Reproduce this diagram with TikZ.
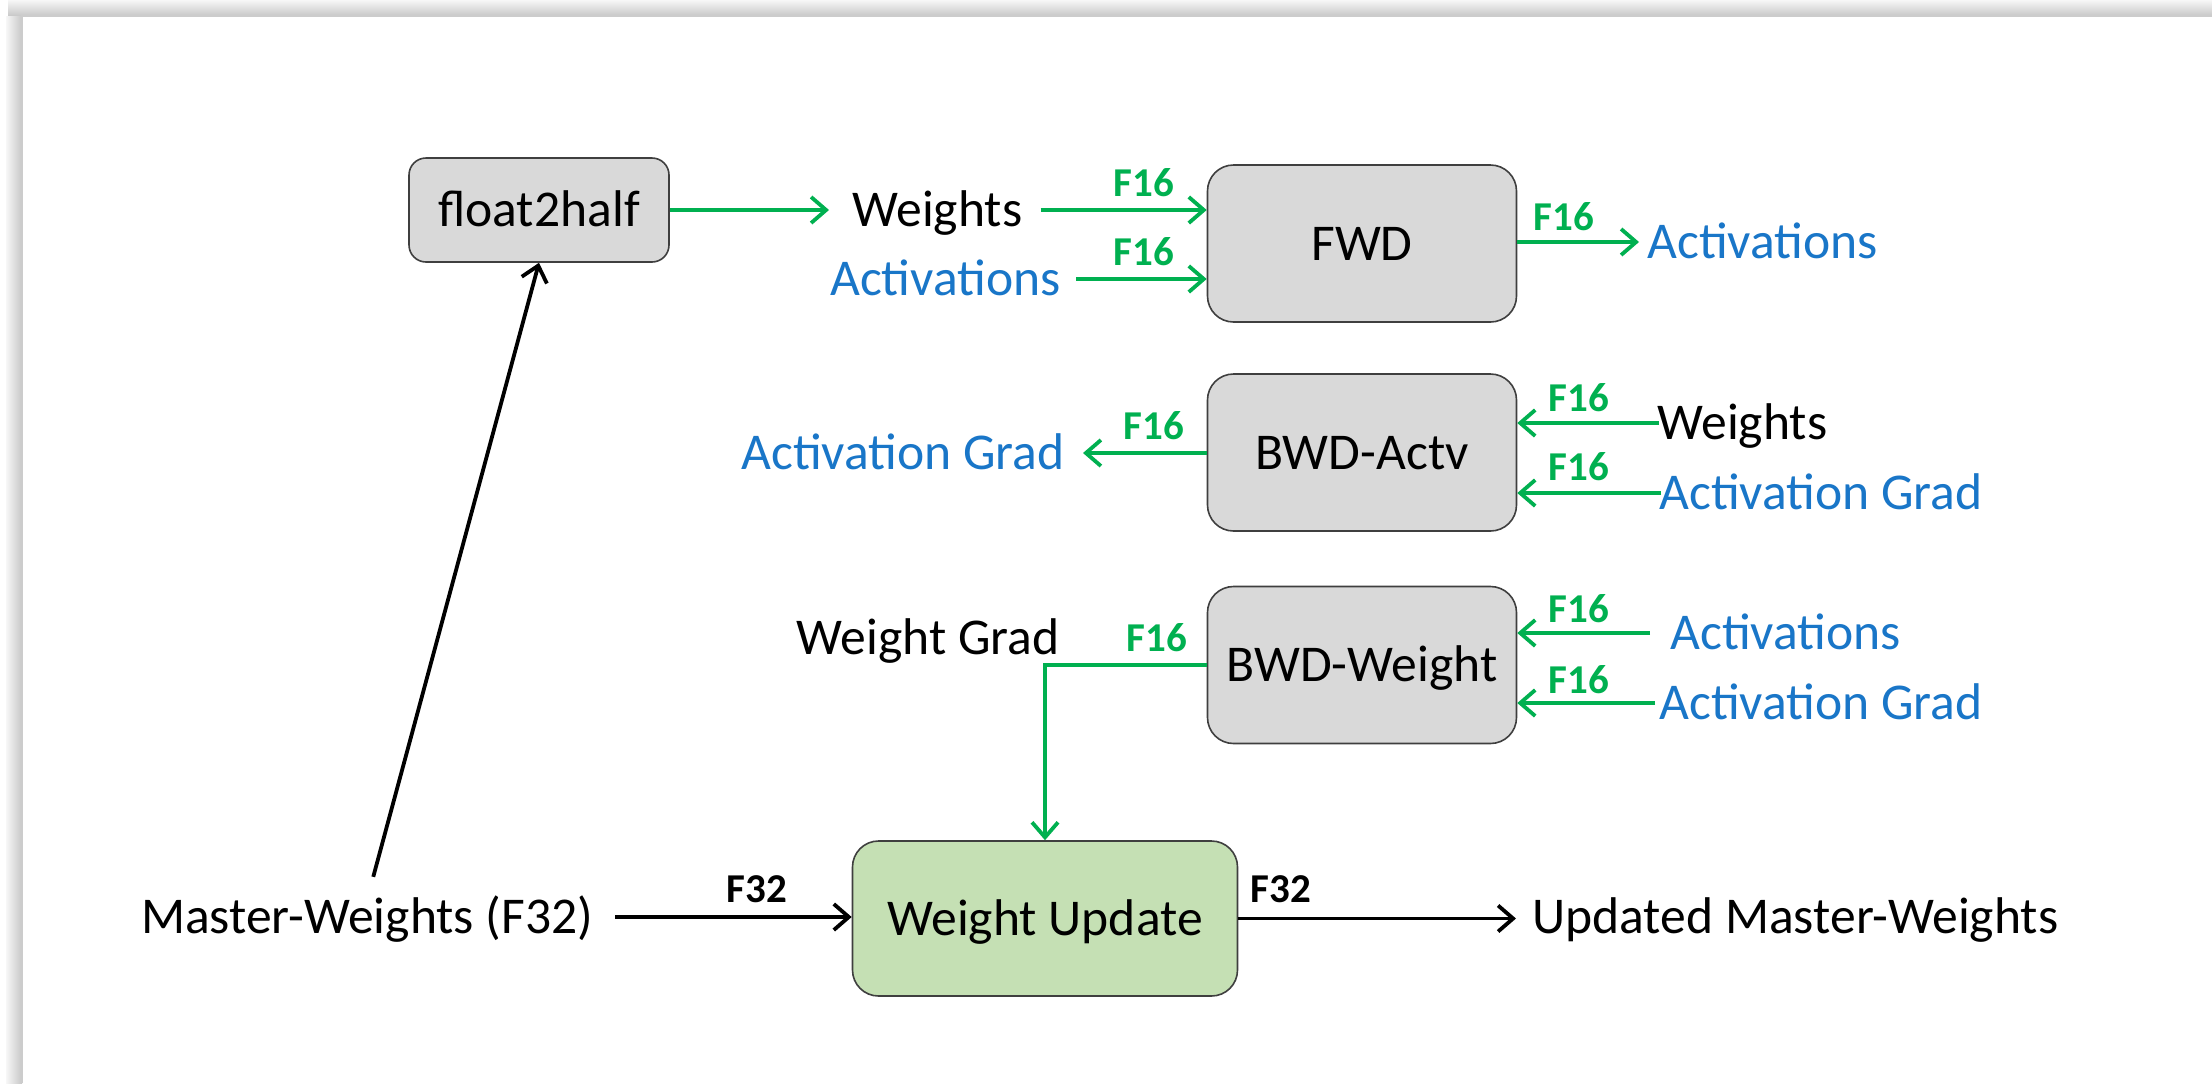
\documentclass[tikz,border=0pt]{standalone}
\usepackage{fontspec}
\setmainfont{Carlito}
\usetikzlibrary{arrows.meta}
\definecolor{fgreen}{HTML}{00B050}
\definecolor{fblue}{RGB}{25,118,200}
\definecolor{boxgray}{HTML}{D9D9D9}
\definecolor{boxgreen}{HTML}{C5E0B4}
\definecolor{edgegray}{HTML}{3F3F3F}
\begin{document}
\begin{tikzpicture}[x=0.5pt,y=-0.5pt,
  txt/.style={inner sep=0pt, font=\fontsize{25.8}{30}\selectfont, text height=16.6pt, text depth=0pt},
  blk/.style={txt, draw=edgegray, line width=0.8pt, fill=boxgray, rounded corners=13pt,
              minimum width=154.5pt, minimum height=78.5pt},
  smallblk/.style={blk, rounded corners=8.5pt, minimum width=130pt, minimum height=52pt},
  updblk/.style={blk, fill=boxgreen, minimum width=192.5pt, minimum height=77.5pt},
  lab/.style={inner sep=0pt, font=\bfseries\fontsize{20.5}{24}\selectfont, text height=13pt, text depth=0pt},
  glab/.style={lab, text=fgreen},
  tip/.style={-{Straight Barb[length=7.5pt,width=13pt]}},
  garr/.style={draw=fgreen, line width=1.9pt, tip},
  barr/.style={draw=black, line width=1.9pt, tip},
]
\useasboundingbox (0,0) rectangle (2212,1083);
% page card with its soft shadow
\fill[white] (0,0) rectangle (2212,1083);
\shade[top color=black!3, bottom color=black!22] (8,0) rectangle (2212,16);
\shade[left color=black!3, right color=black!22] (6,16) rectangle (22,1083);
\fill[white] (22,16) rectangle (2212,1083);
\draw[black!20, line width=0.6pt] (22,1083) -- (22,16) -- (2212,16);

% processing blocks
\node[smallblk] (f2h) at (539,210) {float2half};
\node[blk] (fwd) at (1362,243.5) {FWD};
\node[blk] (bwda) at (1362,452.5) {BWD-Actv};
\node[blk] (bwdw) at (1362,665) {BWD-Weight};
\node[updblk] (wu) at (1045,918.5) {Weight Update};

% data labels
\node[txt, anchor=west] (wtop) at (852,210) {Weights};
\node[txt, anchor=east, text=fblue] (atop) at (1061,279) {Activations};
\node[txt, anchor=west, text=fblue] (aout) at (1647,242) {Activations};
\node[txt, anchor=west] (wbwd) at (1657,423) {Weights};
\node[txt, anchor=west, text=fblue] (gbwd) at (1659,493) {Activation Grad};
\node[txt, anchor=east, text=fblue] (gout) at (1065,453) {Activation Grad};
\node[txt, anchor=west, text=fblue] (abww) at (1670,633) {Activations};
\node[txt, anchor=west, text=fblue] (gbww) at (1659,703) {Activation Grad};
\node[txt] (wgrad) at (928,638) {Weight Grad};
\node[txt] (mw) at (367,917) {Master-Weights (F32)};
\node[txt, anchor=west] (umw) at (1532,917) {Updated Master-Weights};

% precision tags
\node[glab] (t1) at (1144,183) {F16};
\node[glab] (t2) at (1144,252) {F16};
\node[glab] (t3) at (1564,217) {F16};
\node[glab] (t4) at (1579,398) {F16};
\node[glab] (t5) at (1579,467) {F16};
\node[glab] (t6) at (1154,426) {F16};
\node[glab] (t7) at (1579,609) {F16};
\node[glab] (t8) at (1579,680) {F16};
\node[glab] (t9) at (1157,638) {F16};
\node[lab] (t10) at (757,889) {F32};
\node[lab] (t11) at (1281,889) {F32};

% half-precision data flow
\draw[garr, shorten >=11.5pt] (f2h.east) -- (wtop.west);
\draw[garr, shorten <=9pt] (wtop.east) -- (wtop.east -| fwd.west);
\draw[garr, shorten <=7.5pt] (atop.east) -- (atop.east -| fwd.west);
\draw[garr, shorten >=4pt] (aout.west -| fwd.east) -- (aout.west);
\draw[garr, shorten <=-1pt] (wbwd.west) -- (wbwd.west -| bwda.east);
\draw[garr, shorten <=-1pt] (gbwd.west) -- (gbwd.west -| bwda.east);
\draw[garr, shorten >=9pt] (gout.east -| bwda.west) -- (gout.east);
\draw[garr, shorten <=10pt] (abww.west) -- (abww.west -| bwdw.east);
\draw[garr, shorten <=2pt] (gbww.west) -- (gbww.west -| bwdw.east);
\draw[garr] (bwdw.west) -| (wu.north);

% single-precision master copy
\draw[barr, shorten <=12pt] (mw.north) -- (f2h.south);
\draw[barr, shorten <=11pt] (mw.east) -- (mw.east -| wu.west);
\draw[barr, shorten >=8pt] (wu.east) -- (wu.east -| umw.west);
\end{tikzpicture}
\end{document}
